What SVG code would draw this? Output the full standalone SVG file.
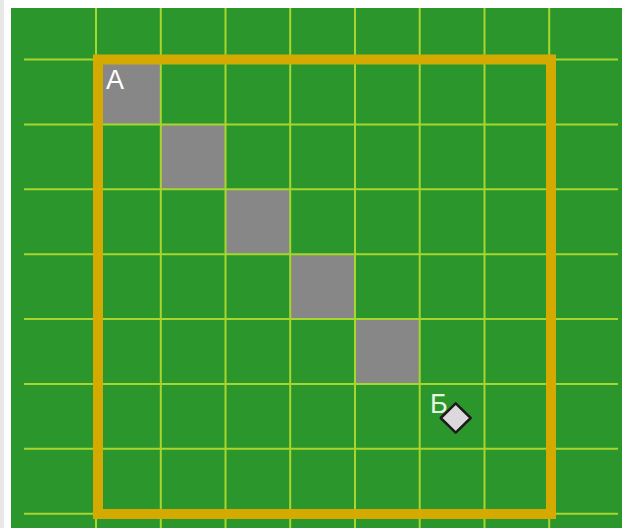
<svg xmlns="http://www.w3.org/2000/svg" width="622" height="528" viewBox="0 0 622 528">
<style>
.grid line{stroke:#a9d62c;stroke-width:2}
.cell{fill:#878787}
.lbl{font-family:"Liberation Sans",Arial,sans-serif;font-size:27px}
</style>
<rect x="0" y="0" width="622" height="528" fill="#ffffff"/>
<rect x="0" y="0" width="4" height="528" fill="#e8e8e8"/>
<rect x="11" y="8" width="611" height="520" fill="#2a962b"/>
<g id="cells">
<rect class="cell" x="97" y="60.5" width="63.8" height="63.9"/>
<rect class="cell" x="160.8" y="124.4" width="64.7" height="64.9"/>
<rect class="cell" x="225.5" y="189.3" width="64.7" height="64.9"/>
<rect class="cell" x="290.2" y="254.2" width="64.8" height="64.8"/>
<rect class="cell" x="355" y="319" width="64.7" height="64.9"/>
</g>
<g class="grid">
<line x1="96" y1="8" x2="96" y2="528"/>
<line x1="160.8" y1="8" x2="160.8" y2="528"/>
<line x1="225.5" y1="8" x2="225.5" y2="528"/>
<line x1="290.2" y1="8" x2="290.2" y2="528"/>
<line x1="355" y1="8" x2="355" y2="528"/>
<line x1="419.7" y1="8" x2="419.7" y2="528"/>
<line x1="484.5" y1="8" x2="484.5" y2="528"/>
<line x1="549.2" y1="8" x2="549.2" y2="528"/>
<line x1="24" y1="59.5" x2="618" y2="59.5"/>
<line x1="24" y1="124.4" x2="618" y2="124.4"/>
<line x1="24" y1="189.3" x2="618" y2="189.3"/>
<line x1="24" y1="254.2" x2="618" y2="254.2"/>
<line x1="24" y1="319" x2="618" y2="319"/>
<line x1="24" y1="383.9" x2="618" y2="383.9"/>
<line x1="24" y1="448.8" x2="618" y2="448.8"/>
<line x1="24" y1="513.7" x2="618" y2="513.7"/>
</g>
<rect id="border" x="98" y="59.5" width="453" height="454.5" fill="none" stroke="#d5aa00" stroke-width="10"/>
<g id="nodeA">
<text class="lbl" x="106" y="89" fill="#ffffff">А</text>
</g>
<g id="nodeB">
<text class="lbl" x="430" y="413" fill="#e4f4e2">Б</text>
<polygon points="455.7,403.3 470.7,418 455.7,432.7 440.7,418" fill="#dcd8dc" stroke="#1c1c1c" stroke-width="2.5" stroke-linejoin="round"/>
</g>
</svg>
